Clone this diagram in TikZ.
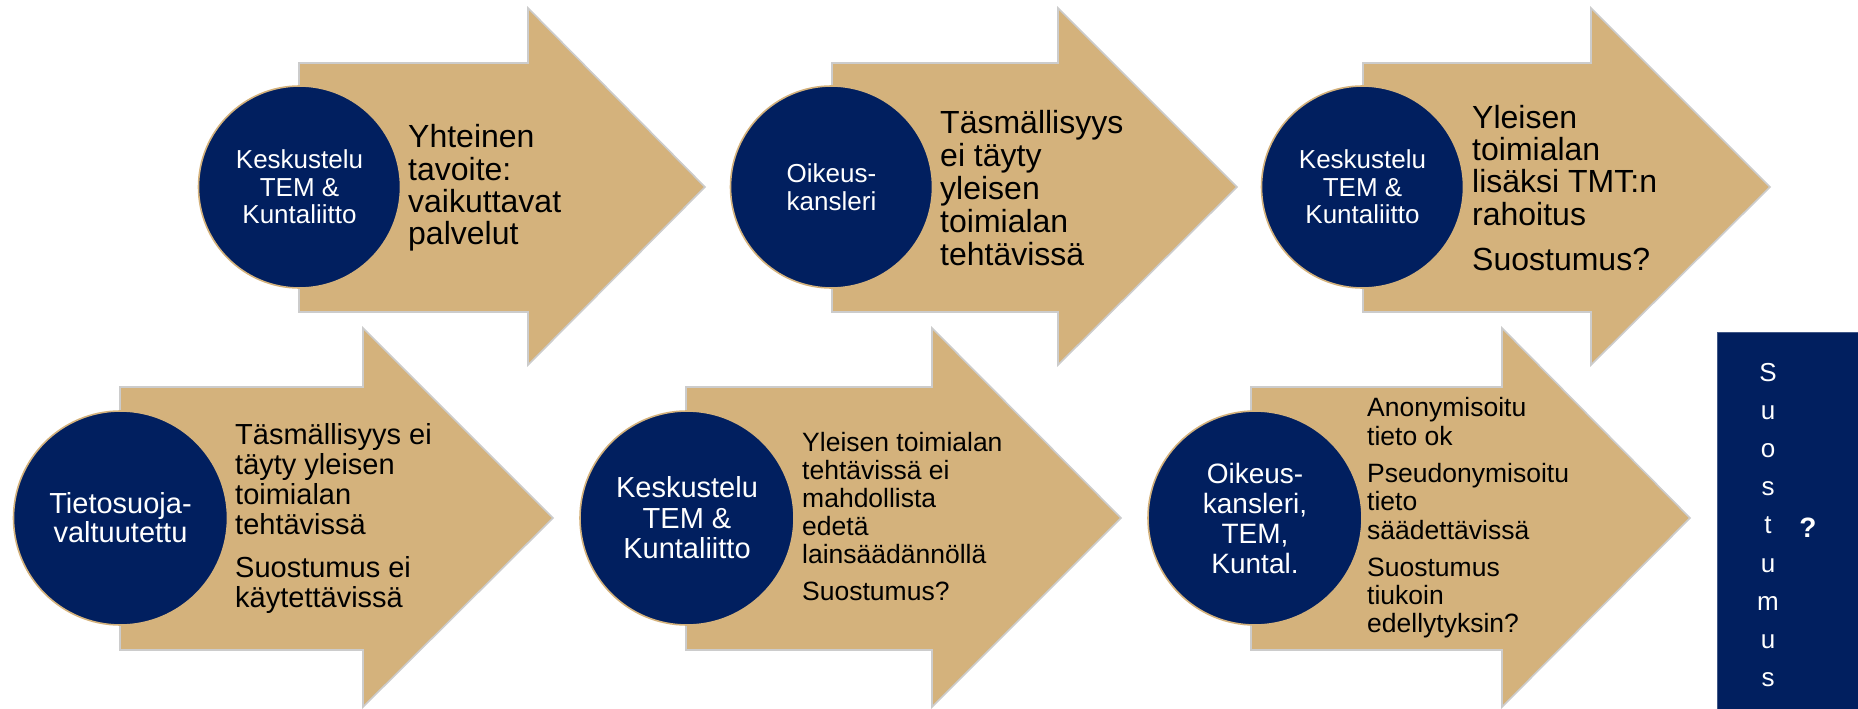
\documentclass[tikz,border=0pt]{standalone}
\usepackage{fontspec}
\setmainfont{Liberation Sans}
\definecolor{gold}{RGB}{212,178,124}
\definecolor{navy}{RGB}{1,31,95}
\definecolor{edgegray}{RGB}{204,204,204}
\begin{document}
\begin{tikzpicture}[x=1pt,y=-1pt,
  arrowshape/.style={fill=gold, draw=edgegray, line width=1.6pt, line join=miter},
  disc/.style={circle, fill=navy, draw=gold, line width=1.6pt, minimum size=#1, inner sep=0pt, text=white, align=center},
  bodytxt/.style={anchor=west, align=left, inner sep=0pt, text=black},
]
\useasboundingbox (0,0) rectangle (1858,709);
% top row arrows
\draw[arrowshape] (299,63) -- (528,63) -- (528,8) -- (705,187) -- (528,365) -- (528,312) -- (299,312) -- cycle;
\draw[arrowshape] (832,63) -- (1058,63) -- (1058,8) -- (1237,187) -- (1058,365) -- (1058,312) -- (832,312) -- cycle;
\draw[arrowshape] (1363,63) -- (1591,63) -- (1591,8) -- (1770,187) -- (1591,365) -- (1591,312) -- (1363,312) -- cycle;
% bottom row arrows
\draw[arrowshape] (120,387) -- (363,387) -- (363,328) -- (553,518) -- (363,707) -- (363,650) -- (120,650) -- cycle;
\draw[arrowshape] (686,387) -- (932,387) -- (932,328) -- (1121,518) -- (932,707) -- (932,650) -- (686,650) -- cycle;
\draw[arrowshape] (1251,387) -- (1502,387) -- (1502,328) -- (1690,518) -- (1502,707) -- (1502,650) -- (1251,650) -- cycle;
% circles top
\node[disc=202, font=\fontsize{26}{27.5}\selectfont] (c1) at (299.5,187) {Keskustelu\\TEM \&\\Kuntaliitto};
\node[disc=202, font=\fontsize{26}{28}\selectfont] (c2) at (831.5,187) {Oikeus-\\kansleri};
\node[disc=202, font=\fontsize{26}{27.5}\selectfont] (c3) at (1362.5,187) {Keskustelu\\TEM \&\\Kuntaliitto};
% circles bottom
\node[disc=214, font=\fontsize{29}{29}\selectfont] (c4) at (120.5,518) {Tietosuoja-\\valtuutettu};
\node[disc=214, font=\fontsize{29}{30.5}\selectfont] (c5) at (687,518) {Keskustelu\\TEM \&\\Kuntaliitto};
\node[disc=214, font=\fontsize{28}{30}\selectfont] (c6) at (1255,518) {Oikeus-\\kansleri,\\TEM,\\Kuntal.};
% texts top
\node[bodytxt, font=\fontsize{32}{32.4}\selectfont] (t1) at (408,188) {Yhteinen\\tavoite:\\vaikuttavat\\palvelut};
\node[bodytxt, font=\fontsize{32}{33}\selectfont] (t2) at (940,188) {Täsmällisyys\\ei täyty\\yleisen\\toimialan\\tehtävissä};
\node[bodytxt, font=\fontsize{32}{32.4}\selectfont] (t3) at (1472,188) {Yleisen\\toimialan\\lisäksi TMT:n\\rahoitus\\[13pt]Suostumus?};
% texts bottom
\node[bodytxt, font=\fontsize{29}{30}\selectfont] (t4) at (235,518) {Täsmällisyys ei\\täyty yleisen\\toimialan\\tehtävissä\\[13pt]Suostumus ei\\käytettävissä};
\node[bodytxt, font=\fontsize{26.5}{28}\selectfont] (t5) at (802,517) {Yleisen toimialan\\tehtävissä ei\\mahdollista\\edetä\\lainsäädännöllä\\[9pt]Suostumus?};
\node[bodytxt, font=\fontsize{26.5}{28.3}\selectfont] (t6) at (1367,518) {Anonymisoitu\\tieto ok\\[9pt]Pseudonymisoitu\\tieto\\säädettävissä\\[9pt]Suostumus\\tiukoin\\edellytyksin?};
% right box
\node[fill=navy, draw=navy!75!white, line width=1pt, minimum width=143, minimum height=380, anchor=north west, inner sep=0pt] (sbox) at (1717,332) {};
\node[text=white, align=center, inner sep=0pt, font=\fontsize{26}{38.2}\selectfont] (sword) at (1768,525) {S\\u\\o\\s\\t\\u\\m\\u\\s};
\node[text=white, anchor=base, inner sep=0pt, font=\fontsize{28}{30}\selectfont\bfseries] (qmark) at (1808,537) {?};
\end{tikzpicture}
\end{document}
